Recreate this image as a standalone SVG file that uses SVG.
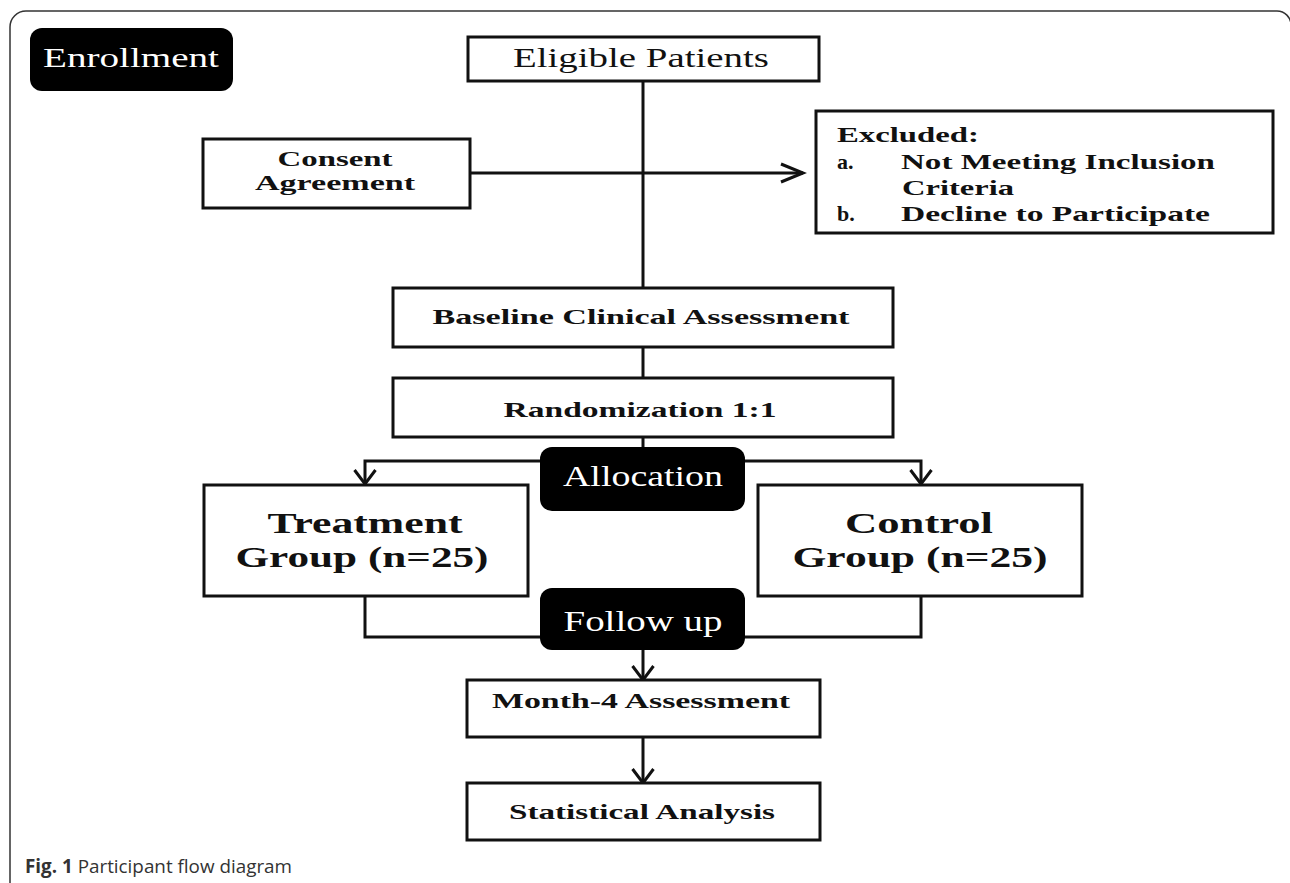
<svg xmlns="http://www.w3.org/2000/svg" width="1290" height="883" viewBox="0 0 1290 883">
  <style>
    .box { fill: #fff; stroke: #111; stroke-width: 3; }
    .blk { fill: #000; }
    .ln { fill: none; stroke: #111; stroke-width: 3; }
    .serif { font-family: "Liberation Serif", "Times New Roman", serif; }
    .b { font-weight: bold; fill: #111; }
    .w { fill: #fff; }
    .mid { text-anchor: middle; }
    .cap { font-family: "Open Sans", "Noto Sans", sans-serif; font-size: 19px; fill: #333; }
  </style>
  <defs>
    <marker id="ah" markerUnits="userSpaceOnUse" markerWidth="30" markerHeight="24" refX="25" refY="12" orient="auto">
      <path d="M3,3 L25,12 L3,21" fill="none" stroke="#111" stroke-width="3"/>
    </marker>
    <marker id="ad" markerUnits="userSpaceOnUse" markerWidth="24" markerHeight="28" refX="18" refY="14" orient="auto">
      <path d="M4,3.5 L18,14 L4,24.5" fill="none" stroke="#111" stroke-width="3"/>
    </marker>
  </defs>
  <rect width="1290" height="883" fill="#fff"/>
  <path d="M10,883 V27 A16,16 0 0 1 26,11 H1277 A14,14 0 0 1 1291,25" fill="none" stroke="#333" stroke-width="1.5"/>

  <g id="connectors">
    <path class="ln" d="M643,81 V288"/>
    <path class="ln" d="M470,173 H803" marker-end="url(#ah)"/>
    <path class="ln" d="M643,347 V378"/>
    <path class="ln" d="M643,437 V461"/>
    <path class="ln" d="M643,461 H365 V484" marker-end="url(#ad)"/>
    <path class="ln" d="M643,461 H921 V484" marker-end="url(#ad)"/>
    <path class="ln" d="M365,596 V637 H545"/>
    <path class="ln" d="M921,596 V637 H740"/>
    <path class="ln" d="M643,645 V680" marker-end="url(#ad)"/>
    <path class="ln" d="M643,737 V783" marker-end="url(#ad)"/>
  </g>

  <g id="enrollment">
    <rect class="blk" x="30" y="28" width="203" height="63" rx="12"/>
    <text class="serif w mid" x="131" y="67" font-size="28" textLength="176" lengthAdjust="spacingAndGlyphs">Enrollment</text>
  </g>

  <g id="eligible">
    <rect class="box" x="468" y="37" width="351" height="44"/>
    <text class="serif mid" x="641" y="67" font-size="28" fill="#111" textLength="256" lengthAdjust="spacingAndGlyphs">Eligible Patients</text>
  </g>

  <g id="consent">
    <rect class="box" x="203" y="139" width="267" height="69"/>
    <text class="serif b mid" x="335" y="166" font-size="22" textLength="115" lengthAdjust="spacingAndGlyphs">Consent</text>
    <text class="serif b mid" x="335" y="190" font-size="22" textLength="160" lengthAdjust="spacingAndGlyphs">Agreement</text>
  </g>

  <g id="excluded">
    <rect class="box" x="816" y="111" width="457" height="122"/>
    <text class="serif b" x="837" y="142" font-size="22" textLength="142" lengthAdjust="spacingAndGlyphs">Excluded:</text>
    <text class="serif b" x="837" y="169" font-size="22">a.</text>
    <text class="serif b" x="901" y="169" font-size="22" textLength="314" lengthAdjust="spacingAndGlyphs">Not Meeting Inclusion</text>
    <text class="serif b" x="902" y="195" font-size="22" textLength="112" lengthAdjust="spacingAndGlyphs">Criteria</text>
    <text class="serif b" x="837" y="221" font-size="22">b.</text>
    <text class="serif b" x="901" y="221" font-size="22" textLength="309" lengthAdjust="spacingAndGlyphs">Decline to Participate</text>
  </g>

  <g id="baseline">
    <rect class="box" x="393" y="288" width="500" height="59"/>
    <text class="serif b mid" x="641" y="324" font-size="21" textLength="417" lengthAdjust="spacingAndGlyphs">Baseline Clinical Assessment</text>
  </g>

  <g id="randomization">
    <rect class="box" x="393" y="378" width="500" height="59"/>
    <text class="serif b mid" x="640" y="417" font-size="21" textLength="273" lengthAdjust="spacingAndGlyphs">Randomization 1:1</text>
  </g>

  <g id="allocation">
    <rect class="blk" x="540" y="447" width="205" height="64" rx="12"/>
    <text class="serif w mid" x="643" y="486" font-size="29" textLength="160" lengthAdjust="spacingAndGlyphs">Allocation</text>
  </g>

  <g id="treatment">
    <rect class="box" x="204" y="485" width="324" height="111"/>
    <text class="serif b mid" x="365" y="533" font-size="29" textLength="195" lengthAdjust="spacingAndGlyphs">Treatment</text>
    <text class="serif b mid" x="362" y="567" font-size="29" textLength="253" lengthAdjust="spacingAndGlyphs">Group (n=25)</text>
  </g>

  <g id="control">
    <rect class="box" x="758" y="485" width="324" height="111"/>
    <text class="serif b mid" x="919" y="533" font-size="29" textLength="148" lengthAdjust="spacingAndGlyphs">Control</text>
    <text class="serif b mid" x="920" y="567" font-size="29" textLength="255" lengthAdjust="spacingAndGlyphs">Group (n=25)</text>
  </g>

  <g id="followup">
    <rect class="blk" x="540" y="588" width="205" height="62" rx="12"/>
    <text class="serif w mid" x="643" y="631" font-size="29" textLength="159" lengthAdjust="spacingAndGlyphs">Follow up</text>
  </g>

  <g id="month4">
    <rect class="box" x="467" y="680" width="353" height="57"/>
    <text class="serif b mid" x="641" y="708" font-size="21" textLength="298" lengthAdjust="spacingAndGlyphs">Month-4 Assessment</text>
  </g>

  <g id="statistical">
    <rect class="box" x="467" y="783" width="353" height="57"/>
    <text class="serif b mid" x="642" y="819" font-size="21" textLength="266" lengthAdjust="spacingAndGlyphs">Statistical Analysis</text>
  </g>

  <g id="caption">
    <text class="cap" x="25" y="873" textLength="267" lengthAdjust="spacingAndGlyphs"><tspan font-weight="bold">Fig. 1</tspan> Participant flow diagram</text>
  </g>
</svg>
